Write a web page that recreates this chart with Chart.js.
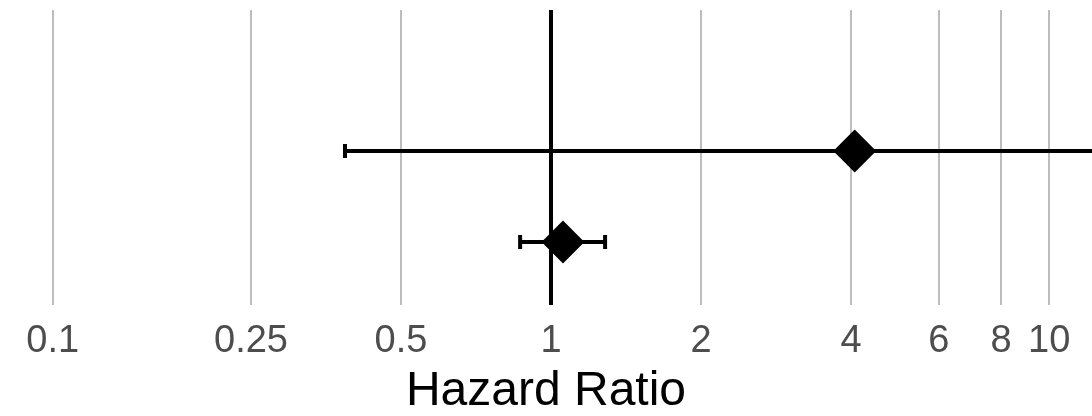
<!DOCTYPE html>
<html lang="en">
    <head>
        <meta charset="UTF-8">
        <title>Hazard Ratio</title>
        <script src="https://cdn.jsdelivr.net/npm/chart.js"></script>
        <style>
            html, body { margin: 0; padding: 0; background: #fff; }
            .grafico { width: 1092px; height: 416px; }
        </style>
    </head>
    <body>
        <div class="grafico">
            <canvas id="forestCanvas"></canvas>
        </div>
    </body>
    <script>
    // linhas do forest plot (1 = de baixo, 2 = de cima)
    const linhas = [1, 2];
    const hazardRatio = [1.057, 4.07];
    const icInferior = [0.867, 0.386];
    const icSuperior = [1.284, 16]; // passa do limite do eixo

    const ticksX = [0.1, 0.25, 0.5, 1, 2, 4, 6, 8, 10];
    const labelsX = ['0.1', '0.25', '0.5', '1', '2', '4', '6', '8', '10'];

    let datasets = [];

    // barras de erro (uma linha por estudo)
    for (let i = 0; i < linhas.length; i++) {
        datasets.push({
            type: 'line',
            data: [
                { x: icInferior[i], y: linhas[i] },
                { x: icSuperior[i], y: linhas[i] }
            ],
            borderColor: '#000',
            borderWidth: 4,
            pointRadius: 0,
            order: 3
        });
    }

    // tracinhos nas pontas
    let pontas = [];
    for (let i = 0; i < linhas.length; i++) {
        pontas.push({ x: icInferior[i], y: linhas[i] });
        pontas.push({ x: icSuperior[i], y: linhas[i] });
    }
    datasets.push({
        type: 'scatter',
        data: pontas,
        pointStyle: 'line',
        rotation: 90,
        pointRadius: 7,
        borderColor: '#000',
        borderWidth: 4,
        order: 2
    });

    // losangos das estimativas
    datasets.push({
        type: 'scatter',
        data: linhas.map((y, i) => ({ x: hazardRatio[i], y: y })),
        pointStyle: 'rectRot',
        pointRadius: 20,
        backgroundColor: '#000',
        borderColor: '#000',
        borderWidth: 2,
        order: 1
    });

    const config = {
        type: 'scatter',
        data: { datasets: datasets },
        options: {
            responsive: true,
            maintainAspectRatio: false,
            animation: false,
            layout: {
                autoPadding: false,
                padding: { top: 10, left: 0, right: 0, bottom: 0 }
            },
            plugins: {
                legend: { display: false },
                tooltip: { enabled: false }
            },
            scales: {
                x: {
                    type: 'logarithmic',
                    min: 0.07837,
                    max: 12.184,
                    afterBuildTicks: function (axis) {
                        axis.ticks = ticksX.map(v => ({ value: v }));
                    },
                    afterFit: function (axis) {
                        // eixo ocupa a largura toda, altura fixa embaixo
                        axis.paddingLeft = 0;
                        axis.paddingRight = 0;
                        axis.height = 120;
                    },
                    ticks: {
                        autoSkip: false,
                        maxRotation: 0,
                        padding: 14,
                        color: '#4d4d4d',
                        font: { family: 'Liberation Sans', size: 38 },
                        callback: function (value, index) {
                            return labelsX[index];
                        }
                    },
                    grid: {
                        color: ctx => ctx.tick && ctx.tick.value === 1 ? '#000' : '#bdbdbd',
                        lineWidth: ctx => ctx.tick && ctx.tick.value === 1 ? 4 : 2,
                        tickLength: 9
                    },
                    border: { display: false },
                    title: {
                        display: true,
                        text: 'Hazard Ratio',
                        color: '#000',
                        font: { family: 'Liberation Sans', size: 48, lineHeight: 1 },
                        padding: { top: 0, bottom: 0 }
                    }
                },
                y: {
                    type: 'linear',
                    display: false,
                    min: 0.407,
                    max: 3.549
                }
            }
        }
    };

    let myChart = new Chart(document.getElementById('forestCanvas'), config);
    </script>
</html>
